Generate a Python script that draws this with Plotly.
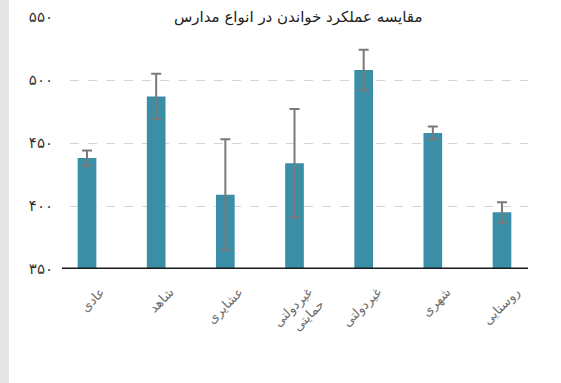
import plotly.graph_objects as go

categories = ["عادی", "شاهد", "عشایری", "غیردولتی<br>حمایتی", "غیردولتی", "شهری", "روستایی"]
values = [438, 487, 409, 434, 508, 458, 395]
errors = [6, 18, 44, 43, 16, 5, 8]
y_tickvals = [350, 400, 450, 500, 550]
y_ticktext = ["۳۵۰", "۴۰۰", "۴۵۰", "۵۰۰", "۵۵۰"]
title_text = "مقایسه عملکرد خواندن در انواع مدارس"

FONT = "DejaVu Sans"

fig = go.Figure()
fig.add_trace(go.Bar(
    x=list(range(len(categories))),
    y=values,
    width=0.27,
    marker=dict(color="#3a8ea6", line=dict(width=0)),
    error_y=dict(type="data", array=errors, visible=True,
                 color="#7a7a7a", thickness=2, width=5),
))

fig.update_layout(
    width=561, height=383,
    margin=dict(l=70, r=33, t=17, b=114),
    paper_bgcolor="white", plot_bgcolor="white",
    showlegend=False,
    font=dict(family=FONT, color="#333"),
    xaxis=dict(
        range=[-0.246, 6.376],
        tickmode="array",
        tickvals=list(range(len(categories))),
        ticktext=categories,
        tickangle=-45,
        tickfont=dict(size=13, color="#6e6e6e", family=FONT),
        showgrid=False, zeroline=False, showline=False,
        ticks="",
        ticklabelshift=14,
        ticklabelstandoff=12,
        automargin=False,
    ),
    yaxis=dict(
        range=[350, 550],
        tickmode="array",
        tickvals=y_tickvals,
        ticktext=y_ticktext,
        tickfont=dict(size=15, color="#333", family=FONT),
        showgrid=True, gridcolor="#d4d4d4", gridwidth=1, griddash="dash",
        zeroline=False, showline=False, ticks="",
        ticklabelstandoff=16,
        automargin=False,
    ),
    shapes=[
        dict(type="rect", xref="paper", yref="paper",
             x0=-0.16, x1=-0.1332, y0=-0.5, y1=1.1,
             fillcolor="#e4e6e7", line=dict(width=0), layer="below"),
        dict(type="line", xref="paper", yref="y",
             x0=-0.0175, x1=1.0, y0=350, y1=350,
             line=dict(color="#1a1a1a", width=3)),
    ],
    annotations=[
        dict(text=title_text, xref="paper", yref="y", x=0.498, y=550,
             showarrow=False, bgcolor="white",
             font=dict(size=15, color="#222", family=FONT),
             xanchor="center", yanchor="middle", borderpad=3),
    ],
)

fig.write_html(
    "out.html",
    config={"displayModeBar": False},
    post_script="document.body.style.margin='0';document.body.style.overflow='hidden';",
)
